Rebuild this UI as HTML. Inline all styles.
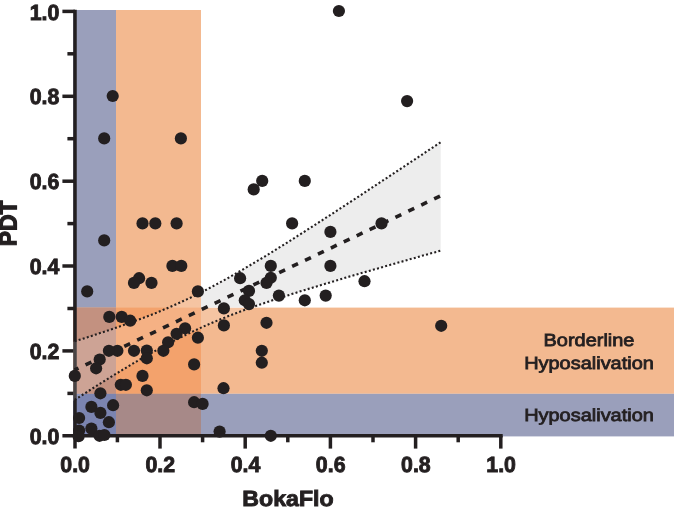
<!DOCTYPE html>
<html><head><meta charset="utf-8"><title>BokaFlo vs PDT</title>
<style>html,body{margin:0;padding:0;background:#fff}svg{display:block}text{font-family:"Liberation Sans",Arial,sans-serif;fill:#231f20}text{paint-order:stroke;text-rendering:geometricPrecision}.tk{font-weight:bold;font-size:22px;stroke:#231f20;stroke-width:0.9px}.ax{font-weight:bold;font-size:22px;stroke:#231f20;stroke-width:0.9px}.lb{font-size:17.5px;stroke:#231f20;stroke-width:0.8px}</style></head><body>
<svg width="685" height="507" viewBox="0 0 685 507">
<rect width="685" height="507" fill="#fff"/>
<rect x="73" y="10" width="43" height="426.4" fill="#9a9fbb"/>
<rect x="116" y="10" width="85" height="426.4" fill="#f3b990"/>
<rect x="73" y="307.6" width="601" height="86.2" fill="#f3b990"/>
<rect x="73" y="393.8" width="601" height="42.6" fill="#9a9fbb"/>
<rect x="73" y="307.6" width="43" height="86.2" fill="#c39180"/>
<rect x="116" y="307.6" width="85" height="86.2" fill="#f3a26c"/>
<rect x="73" y="393.8" width="43" height="42.6" fill="#7b84b0"/>
<rect x="116" y="393.8" width="85" height="42.6" fill="#a78988"/>
<g stroke="#231f20" stroke-width="3.5" fill="none">
<path d="M75,9.8V448.6"/>
<path d="M62.4,435.8H502.7"/>
<path d="M67.4,393.4H75"/>
<path d="M62.4,350.9H75"/>
<path d="M67.4,308.5H75"/>
<path d="M62.4,266.0H75"/>
<path d="M67.4,223.6H75"/>
<path d="M62.4,181.2H75"/>
<path d="M67.4,138.7H75"/>
<path d="M62.4,96.3H75"/>
<path d="M67.4,53.8H75"/>
<path d="M62.4,11.4H75"/>
<path d="M117.4,435.8V442.3"/>
<path d="M160.0,435.8V448.6"/>
<path d="M202.6,435.8V442.3"/>
<path d="M245.2,435.8V448.6"/>
<path d="M287.8,435.8V442.3"/>
<path d="M330.4,435.8V448.6"/>
<path d="M373.0,435.8V442.3"/>
<path d="M415.6,435.8V448.6"/>
<path d="M458.2,435.8V442.3"/>
<path d="M500.8,435.8V448.6"/>
</g>
<defs><clipPath id="cin"><rect x="0" y="0" width="201" height="507"/><rect x="0" y="307.6" width="685" height="200"/></clipPath><clipPath id="cout"><rect x="201" y="0" width="484" height="307.6"/></clipPath></defs>
<path d="M73.0,341.9 L74.6,341.3 L80.8,339.4 L87.0,337.4 L93.2,335.4 L99.4,333.3 L105.6,331.3 L111.8,329.2 L118.0,327.0 L124.2,324.8 L130.4,322.6 L136.7,320.3 L142.9,318.0 L149.1,315.6 L155.3,313.2 L161.5,310.6 L167.7,308.0 L173.9,305.3 L180.1,302.5 L186.3,299.6 L192.5,296.7 L198.7,293.6 L204.9,290.5 L211.1,287.2 L217.3,283.9 L223.5,280.5 L229.7,277.1 L235.9,273.5 L242.1,270.0 L248.3,266.3 L254.5,262.6 L260.8,258.9 L267.0,255.1 L273.2,251.3 L279.4,247.4 L285.6,243.6 L291.8,239.7 L298.0,235.7 L304.2,231.8 L310.4,227.8 L316.6,223.8 L322.8,219.8 L329.0,215.8 L335.2,211.8 L341.4,207.8 L347.6,203.7 L353.8,199.7 L360.0,195.6 L366.2,191.5 L372.4,187.4 L378.6,183.3 L384.9,179.2 L391.1,175.1 L397.3,171.0 L403.5,166.9 L409.7,162.8 L415.9,158.7 L422.1,154.6 L428.3,150.4 L434.5,146.3 L440.7,142.2 L440.7,250.6 L434.5,252.4 L428.3,254.1 L422.1,255.8 L415.9,257.6 L409.7,259.3 L403.5,261.1 L397.3,262.8 L391.1,264.6 L384.9,266.4 L378.6,268.2 L372.4,269.9 L366.2,271.7 L360.0,273.5 L353.8,275.3 L347.6,277.1 L341.4,279.0 L335.2,280.8 L329.0,282.7 L322.8,284.5 L316.6,286.4 L310.4,288.3 L304.2,290.2 L298.0,292.1 L291.8,294.1 L285.6,296.1 L279.4,298.1 L273.2,300.1 L267.0,302.2 L260.8,304.3 L254.5,306.5 L248.3,308.7 L242.1,310.9 L235.9,313.3 L229.7,315.6 L223.5,318.1 L217.3,320.6 L211.1,323.2 L204.9,325.9 L198.7,328.7 L192.5,331.6 L186.3,334.6 L180.1,337.6 L173.9,340.8 L167.7,344.0 L161.5,347.4 L155.3,350.8 L149.1,354.3 L142.9,357.8 L136.7,361.4 L130.4,365.1 L124.2,368.8 L118.0,372.6 L111.8,376.4 L105.6,380.2 L99.4,384.1 L93.2,388.0 L87.0,392.0 L80.8,395.9 L74.6,399.9 L73.0,400.9Z" fill="#ededed" clip-path="url(#cout)"/>
<path d="M73.0,341.9 L74.6,341.3 L80.8,339.4 L87.0,337.4 L93.2,335.4 L99.4,333.3 L105.6,331.3 L111.8,329.2 L118.0,327.0 L124.2,324.8 L130.4,322.6 L136.7,320.3 L142.9,318.0 L149.1,315.6 L155.3,313.2 L161.5,310.6 L167.7,308.0 L173.9,305.3 L180.1,302.5 L186.3,299.6 L192.5,296.7 L198.7,293.6 L204.9,290.5 L211.1,287.2 L217.3,283.9 L223.5,280.5 L229.7,277.1 L235.9,273.5 L242.1,270.0 L248.3,266.3 L254.5,262.6 L260.8,258.9 L267.0,255.1 L273.2,251.3 L279.4,247.4 L285.6,243.6 L291.8,239.7 L298.0,235.7 L304.2,231.8 L310.4,227.8 L316.6,223.8 L322.8,219.8 L329.0,215.8 L335.2,211.8 L341.4,207.8 L347.6,203.7 L353.8,199.7 L360.0,195.6 L366.2,191.5 L372.4,187.4 L378.6,183.3 L384.9,179.2 L391.1,175.1 L397.3,171.0 L403.5,166.9 L409.7,162.8 L415.9,158.7 L422.1,154.6 L428.3,150.4 L434.5,146.3 L440.7,142.2 L440.7,250.6 L434.5,252.4 L428.3,254.1 L422.1,255.8 L415.9,257.6 L409.7,259.3 L403.5,261.1 L397.3,262.8 L391.1,264.6 L384.9,266.4 L378.6,268.2 L372.4,269.9 L366.2,271.7 L360.0,273.5 L353.8,275.3 L347.6,277.1 L341.4,279.0 L335.2,280.8 L329.0,282.7 L322.8,284.5 L316.6,286.4 L310.4,288.3 L304.2,290.2 L298.0,292.1 L291.8,294.1 L285.6,296.1 L279.4,298.1 L273.2,300.1 L267.0,302.2 L260.8,304.3 L254.5,306.5 L248.3,308.7 L242.1,310.9 L235.9,313.3 L229.7,315.6 L223.5,318.1 L217.3,320.6 L211.1,323.2 L204.9,325.9 L198.7,328.7 L192.5,331.6 L186.3,334.6 L180.1,337.6 L173.9,340.8 L167.7,344.0 L161.5,347.4 L155.3,350.8 L149.1,354.3 L142.9,357.8 L136.7,361.4 L130.4,365.1 L124.2,368.8 L118.0,372.6 L111.8,376.4 L105.6,380.2 L99.4,384.1 L93.2,388.0 L87.0,392.0 L80.8,395.9 L74.6,399.9 L73.0,400.9Z" fill="rgba(255,255,255,0.17)" clip-path="url(#cin)"/>
<path d="M74.6,341.3 L80.8,339.4 L87.0,337.4 L93.2,335.4 L99.4,333.3 L105.6,331.3 L111.8,329.2 L118.0,327.0 L124.2,324.8 L130.4,322.6 L136.7,320.3 L142.9,318.0 L149.1,315.6 L155.3,313.2 L161.5,310.6 L167.7,308.0 L173.9,305.3 L180.1,302.5 L186.3,299.6 L192.5,296.7 L198.7,293.6 L204.9,290.5 L211.1,287.2 L217.3,283.9 L223.5,280.5 L229.7,277.1 L235.9,273.5 L242.1,270.0 L248.3,266.3 L254.5,262.6 L260.8,258.9 L267.0,255.1 L273.2,251.3 L279.4,247.4 L285.6,243.6 L291.8,239.7 L298.0,235.7 L304.2,231.8 L310.4,227.8 L316.6,223.8 L322.8,219.8 L329.0,215.8 L335.2,211.8 L341.4,207.8 L347.6,203.7 L353.8,199.7 L360.0,195.6 L366.2,191.5 L372.4,187.4 L378.6,183.3 L384.9,179.2 L391.1,175.1 L397.3,171.0 L403.5,166.9 L409.7,162.8 L415.9,158.7 L422.1,154.6 L428.3,150.4 L434.5,146.3 L440.7,142.2" fill="none" stroke="#231f20" stroke-width="2.1" stroke-dasharray="2 2.25"/>
<path d="M74.6,399.9 L80.8,395.9 L87.0,392.0 L93.2,388.0 L99.4,384.1 L105.6,380.2 L111.8,376.4 L118.0,372.6 L124.2,368.8 L130.4,365.1 L136.7,361.4 L142.9,357.8 L149.1,354.3 L155.3,350.8 L161.5,347.4 L167.7,344.0 L173.9,340.8 L180.1,337.6 L186.3,334.6 L192.5,331.6 L198.7,328.7 L204.9,325.9 L211.1,323.2 L217.3,320.6 L223.5,318.1 L229.7,315.6 L235.9,313.3 L242.1,310.9 L248.3,308.7 L254.5,306.5 L260.8,304.3 L267.0,302.2 L273.2,300.1 L279.4,298.1 L285.6,296.1 L291.8,294.1 L298.0,292.1 L304.2,290.2 L310.4,288.3 L316.6,286.4 L322.8,284.5 L329.0,282.7 L335.2,280.8 L341.4,279.0 L347.6,277.1 L353.8,275.3 L360.0,273.5 L366.2,271.7 L372.4,269.9 L378.6,268.2 L384.9,266.4 L391.1,264.6 L397.3,262.8 L403.5,261.1 L409.7,259.3 L415.9,257.6 L422.1,255.8 L428.3,254.1 L434.5,252.4 L440.7,250.6" fill="none" stroke="#231f20" stroke-width="2.1" stroke-dasharray="2 2.25"/>
<path d="M74.6,370.0L440.0,196.1" fill="none" stroke="#231f20" stroke-width="3.6" stroke-dasharray="6.5 7.8" stroke-dashoffset="2.2"/>
<g fill="#231f20">
<circle cx="112.7" cy="96.0" r="6.1"/>
<circle cx="104.2" cy="138.4" r="6.1"/>
<circle cx="180.9" cy="138.4" r="6.1"/>
<circle cx="142.5" cy="223.4" r="6.1"/>
<circle cx="155.3" cy="223.4" r="6.1"/>
<circle cx="176.6" cy="223.4" r="6.1"/>
<circle cx="104.2" cy="240.4" r="6.1"/>
<circle cx="172.4" cy="265.9" r="6.1"/>
<circle cx="181.3" cy="265.9" r="6.1"/>
<circle cx="139.1" cy="278.2" r="6.1"/>
<circle cx="134.0" cy="282.9" r="6.1"/>
<circle cx="151.5" cy="282.9" r="6.1"/>
<circle cx="87.2" cy="291.4" r="6.1"/>
<circle cx="197.9" cy="291.4" r="6.1"/>
<circle cx="109.3" cy="316.9" r="6.1"/>
<circle cx="121.7" cy="316.9" r="6.1"/>
<circle cx="130.2" cy="320.7" r="6.1"/>
<circle cx="223.9" cy="308.4" r="6.1"/>
<circle cx="223.9" cy="325.4" r="6.1"/>
<circle cx="197.9" cy="337.7" r="6.1"/>
<circle cx="185.1" cy="328.3" r="6.1"/>
<circle cx="176.6" cy="333.8" r="6.1"/>
<circle cx="168.1" cy="342.3" r="6.1"/>
<circle cx="163.4" cy="350.8" r="6.1"/>
<circle cx="146.8" cy="350.6" r="6.1"/>
<circle cx="146.8" cy="358.3" r="6.1"/>
<circle cx="134.0" cy="350.8" r="6.1"/>
<circle cx="117.4" cy="350.8" r="6.1"/>
<circle cx="108.9" cy="350.8" r="6.1"/>
<circle cx="99.7" cy="359.5" r="6.1"/>
<circle cx="194.1" cy="364.4" r="6.1"/>
<circle cx="96.1" cy="368.3" r="6.1"/>
<circle cx="74.8" cy="375.9" r="6.1"/>
<circle cx="142.5" cy="375.9" r="6.1"/>
<circle cx="120.8" cy="384.8" r="6.1"/>
<circle cx="125.9" cy="384.8" r="6.1"/>
<circle cx="146.8" cy="390.3" r="6.1"/>
<circle cx="100.4" cy="393.3" r="6.1"/>
<circle cx="223.5" cy="388.2" r="6.1"/>
<circle cx="194.1" cy="402.2" r="6.1"/>
<circle cx="202.6" cy="403.9" r="6.1"/>
<circle cx="113.1" cy="405.2" r="6.1"/>
<circle cx="91.4" cy="406.9" r="6.1"/>
<circle cx="100.4" cy="412.9" r="6.1"/>
<circle cx="79.1" cy="418.0" r="6.1"/>
<circle cx="108.9" cy="422.2" r="6.1"/>
<circle cx="91.4" cy="428.6" r="6.1"/>
<circle cx="79.1" cy="430.5" r="6.1"/>
<circle cx="99.5" cy="435.8" r="6.1"/>
<circle cx="104.4" cy="435.0" r="6.1"/>
<circle cx="78.6" cy="436.2" r="6.1"/>
<circle cx="219.6" cy="431.6" r="6.1"/>
<circle cx="338.9" cy="11.0" r="6.1"/>
<circle cx="262.2" cy="180.9" r="6.1"/>
<circle cx="253.7" cy="189.4" r="6.1"/>
<circle cx="304.8" cy="180.9" r="6.1"/>
<circle cx="292.1" cy="223.4" r="6.1"/>
<circle cx="330.4" cy="231.9" r="6.1"/>
<circle cx="381.5" cy="223.4" r="6.1"/>
<circle cx="270.8" cy="265.9" r="6.1"/>
<circle cx="330.4" cy="265.9" r="6.1"/>
<circle cx="240.1" cy="278.2" r="6.1"/>
<circle cx="270.8" cy="277.8" r="6.1"/>
<circle cx="266.5" cy="282.9" r="6.1"/>
<circle cx="364.5" cy="281.2" r="6.1"/>
<circle cx="249.0" cy="290.9" r="6.1"/>
<circle cx="278.9" cy="295.6" r="6.1"/>
<circle cx="325.7" cy="295.6" r="6.1"/>
<circle cx="304.8" cy="300.3" r="6.1"/>
<circle cx="244.8" cy="300.3" r="6.1"/>
<circle cx="249.0" cy="304.1" r="6.1"/>
<circle cx="266.5" cy="322.8" r="6.1"/>
<circle cx="261.8" cy="350.8" r="6.1"/>
<circle cx="261.8" cy="362.7" r="6.1"/>
<circle cx="270.8" cy="435.8" r="6.1"/>
<circle cx="407.1" cy="101.1" r="6.1"/>
<circle cx="441.2" cy="325.8" r="6.1"/>
</g>
<text class="tk" transform="translate(59.4,444) scale(0.97,1)" text-anchor="end">0.0</text>
<text class="tk" transform="translate(75.1,472.0) scale(0.97,1)" text-anchor="middle">0.0</text>
<text class="tk" transform="translate(59.4,359) scale(0.97,1)" text-anchor="end">0.2</text>
<text class="tk" transform="translate(160.3,472.0) scale(0.97,1)" text-anchor="middle">0.2</text>
<text class="tk" transform="translate(59.4,274) scale(0.97,1)" text-anchor="end">0.4</text>
<text class="tk" transform="translate(245.5,472.0) scale(0.97,1)" text-anchor="middle">0.4</text>
<text class="tk" transform="translate(59.4,189) scale(0.97,1)" text-anchor="end">0.6</text>
<text class="tk" transform="translate(330.7,472.0) scale(0.97,1)" text-anchor="middle">0.6</text>
<text class="tk" transform="translate(59.4,104) scale(0.97,1)" text-anchor="end">0.8</text>
<text class="tk" transform="translate(415.9,472.0) scale(0.97,1)" text-anchor="middle">0.8</text>
<text class="tk" transform="translate(59.4,20) scale(0.97,1)" text-anchor="end">1.0</text>
<text class="tk" transform="translate(501.1,472.0) scale(0.97,1)" text-anchor="middle">1.0</text>
<text class="ax" transform="translate(288.0,505.6) scale(1.052,1)" text-anchor="middle">BokaFlo</text>
<text class="ax" style="stroke-width:1.1px" transform="translate(16.4,223.3) rotate(-89.9) scale(1.04,1.11)" text-anchor="middle">PDT</text>
<text class="lb" transform="translate(589,346) scale(1.14,1)" text-anchor="middle">Borderline</text>
<text class="lb" transform="translate(589,369) scale(1.14,1)" text-anchor="middle">Hyposalivation</text>
<text class="lb" transform="translate(589,421) scale(1.14,1)" text-anchor="middle">Hyposalivation</text>
</svg></body></html>
